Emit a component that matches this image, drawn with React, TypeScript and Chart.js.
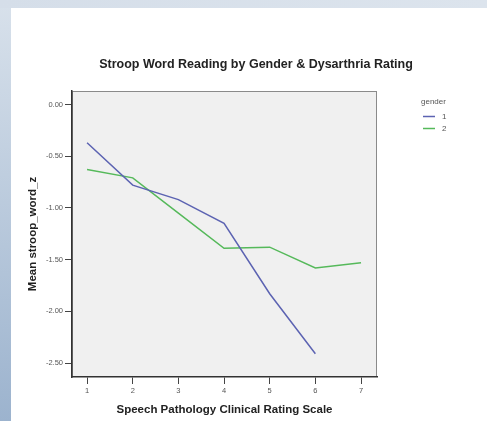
import React, { useEffect, useRef } from "react";
import { Chart, registerables } from "chart.js";

Chart.register(...registerables);

const chartTitle = "Stroop Word Reading by Gender & Dysarthria Rating";
const xAxisTitle = "Speech Pathology Clinical Rating Scale";
const yAxisTitle = "Mean stroop_word_z";
const legendTitle = "gender";
const categories = [1, 2, 3, 4, 5, 6, 7];
const gender1 = [-0.37, -0.78, -0.92, -1.15, -1.83, -2.41, null];
const gender2 = [-0.63, -0.71, -1.05, -1.39, -1.38, -1.58, -1.53];
const seriesLabels = ["1", "2"];
const seriesColors = ["#5c63b2", "#55b95a"];
const yTicks = [0, -0.5, -1, -1.5, -2, -2.5];

const FONT = "'Liberation Sans', Arial, sans-serif";

const decorPlugin = {
  id: "decor",
  beforeDraw(chart: any) {
    const { ctx, chartArea } = chart;
    ctx.save();
    ctx.fillStyle = "#f0f0f0";
    ctx.fillRect(chartArea.left, chartArea.top, chartArea.right - chartArea.left, chartArea.bottom - chartArea.top);
    ctx.strokeStyle = "#8a8a8a";
    ctx.lineWidth = 1;
    ctx.strokeRect(chartArea.left + 0.5, chartArea.top + 0.5, chartArea.right - chartArea.left - 1, chartArea.bottom - chartArea.top - 1);
    ctx.restore();
  },
  afterDraw(chart: any) {
    const { ctx } = chart;
    ctx.save();
    ctx.fillStyle = "#222";
    ctx.font = `bold 12.5px ${FONT}`;
    ctx.textAlign = "center";
    ctx.textBaseline = "middle";
    ctx.fillText(chartTitle, 245, 57);

    ctx.fillStyle = "#555";
    ctx.font = `8px ${FONT}`;
    ctx.textAlign = "left";
    ctx.fillText(legendTitle, 410, 94);
    chart.data.datasets.forEach((ds: any, i: number) => {
      const y = 108 + i * 12;
      ctx.strokeStyle = ds.borderColor;
      ctx.lineWidth = 1.5;
      ctx.beginPath();
      ctx.moveTo(412, y + 0.5);
      ctx.lineTo(424, y + 0.5);
      ctx.stroke();
      ctx.fillStyle = "#555";
      ctx.fillText(ds.label, 431, y + 1);
    });
    ctx.restore();
  },
};

export default function App() {
  const ref = useRef<HTMLCanvasElement | null>(null);

  useEffect(() => {
    if (!ref.current) return;
    const mk = (vals: (number | null)[]) =>
      categories
        .map((c, i) => ({ x: c, y: vals[i] }))
        .filter((p) => p.y !== null);
    const chart = new Chart(ref.current, {
      type: "line",
      data: {
        datasets: [
          {
            label: seriesLabels[0],
            data: mk(gender1) as any,
            borderColor: seriesColors[0],
            borderWidth: 1.5,
            pointRadius: 0,
            tension: 0,
          },
          {
            label: seriesLabels[1],
            data: mk(gender2) as any,
            borderColor: seriesColors[1],
            borderWidth: 1.5,
            pointRadius: 0,
            tension: 0,
          },
        ],
      },
      options: {
        animation: false,
        responsive: false,
        events: [],
        layout: { padding: { left: 11, top: 83, right: 110, bottom: 0 } },
        plugins: {
          legend: { display: false },
          title: { display: false },
          tooltip: { enabled: false },
        },
        scales: {
          x: {
            type: "linear",
            min: 0.67,
            max: 7.35,
            afterFit: (s: any) => {
              s.height = 44;
            },
            afterBuildTicks: (s: any) => {
              s.ticks = categories.map((v) => ({ value: v }));
            },
            grid: {
              display: true,
              drawOnChartArea: false,
              drawTicks: true,
              tickLength: 7,
              color: "#444",
            },
            border: { display: true, color: "#333", width: 1.5 },
            ticks: {
              padding: 2,
              color: "#555",
              font: { family: FONT, size: 7.5 },
              callback: (v: any) => String(v),
              maxRotation: 0,
            },
            title: {
              display: true,
              text: xAxisTitle,
              color: "#222",
              font: { family: FONT, size: 11.5, weight: "bold" },
              padding: { top: 4, bottom: 4 },
            },
          },
          y: {
            type: "linear",
            min: -2.635,
            max: 0.13,
            afterFit: (s: any) => {
              s.width = 50;
            },
            afterBuildTicks: (s: any) => {
              s.ticks = yTicks.map((v) => ({ value: v }));
            },
            grid: {
              display: true,
              drawOnChartArea: false,
              drawTicks: true,
              tickLength: 7,
              color: "#444",
            },
            border: { display: true, color: "#333", width: 1.5 },
            ticks: {
              padding: 2,
              color: "#555",
              font: { family: FONT, size: 7.5 },
              callback: (v: any) => Number(v).toFixed(2),
            },
            title: {
              display: true,
              text: yAxisTitle,
              color: "#222",
              font: { family: FONT, size: 11.5, weight: "bold" },
              padding: { top: 4, bottom: 4 },
            },
          },
        },
      },
      plugins: [decorPlugin],
    });
    return () => chart.destroy();
  }, []);

  return (
    <div
      style={{
        position: "absolute",
        left: 0,
        top: 0,
        width: 487,
        height: 421,
        background: "linear-gradient(to bottom, #d8e1eb, #9cb3ce)",
        overflow: "hidden",
      }}
    >
      <div
        style={{
          position: "absolute",
          left: 0,
          top: 0,
          width: 487,
          height: 8,
          background: "linear-gradient(to right, #d5dee9, #dce4ed)",
        }}
      />
      <canvas
        ref={ref}
        width={476}
        height={413}
        style={{ position: "absolute", left: 11, top: 8, width: 476, height: 413, background: "#fff" }}
      />
    </div>
  );
}
